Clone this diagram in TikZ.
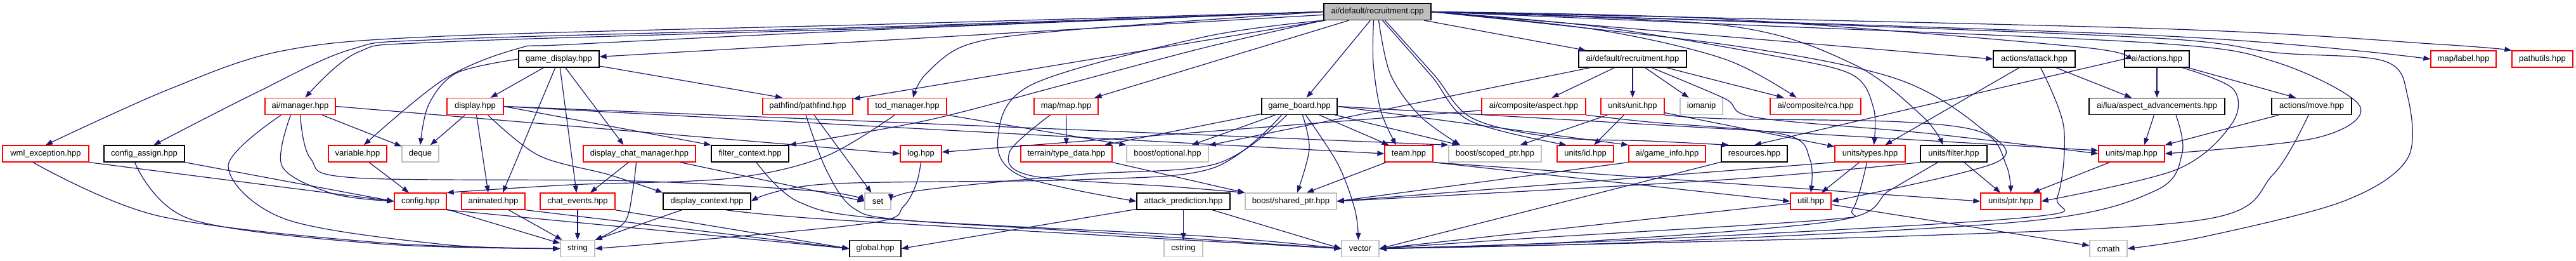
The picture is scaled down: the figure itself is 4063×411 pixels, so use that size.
\documentclass[tikz,border=0pt]{standalone}
\usepackage{fontspec}
\setmainfont{Liberation Sans}
\usetikzlibrary{arrows.meta}
\definecolor{edgec}{HTML}{191970}
\definecolor{gfill}{HTML}{BFBFBF}
\definecolor{gline}{HTML}{BFBFBF}
\begin{document}
\begin{tikzpicture}[x=1pt,y=1pt,
 nb/.style={rectangle, inner sep=0pt, minimum height=26pt, line width=1.3pt, font=\fontsize{13}{15}\selectfont, text=black},
 rn/.style={nb, draw=red},
 bn/.style={nb, draw=black},
 gn/.style={nb, draw=gline},
 cn/.style={nb, draw=black, fill=gfill},
 e/.style={draw=edgec, line width=1.2pt, -{Triangle[length=11pt,width=8pt]}},
 sm/.style={smooth, tension=0.55}]
\useasboundingbox (0,0) rectangle (4063,-411);
% row 1
\node[cn, minimum width=169pt] (cpp) at (2172.5,-18.5) {ai/default/recruitment.cpp};
% row 2
\node[bn, minimum width=127pt] (gdisp) at (881.5,-93) {game\_display.hpp};
\node[bn, minimum width=170pt] (rechpp) at (2575,-93) {ai/default/recruitment.hpp};
\node[bn, minimum width=129pt] (attack) at (3208.5,-93) {actions/attack.hpp};
\node[bn, minimum width=102pt] (aiactions) at (3402,-93) {ai/actions.hpp};
\node[rn, minimum width=103pt] (label) at (3885.5,-93) {map/label.hpp};
\node[rn, minimum width=96pt] (pathutils) at (4010,-93) {pathutils.hpp};
% row 3
\node[rn, minimum width=111pt] (manager) at (473.5,-167.5) {ai/manager.hpp};
\node[rn, minimum width=89pt] (display) at (749.5,-167.5) {display.hpp};
\node[rn, minimum width=142pt] (pathfind) at (1274,-167.5) {pathfind/pathfind.hpp};
\node[rn, minimum width=124pt] (tod) at (1431,-167.5) {tod\_manager.hpp};
\node[rn, minimum width=101pt] (mapmap) at (1681.5,-167.5) {map/map.hpp};
\node[bn, minimum width=119pt] (gboard) at (2049.5,-167.5) {game\_board.hpp};
\node[rn, minimum width=164pt] (aspect) at (2419,-167.5) {ai/composite/aspect.hpp};
\node[rn, minimum width=100pt] (unit) at (2575,-167.5) {units/unit.hpp};
\node[gn, minimum width=67pt] (iomanip) at (2683.5,-167.5) {iomanip};
\node[rn, minimum width=143pt] (rca) at (2863.5,-167.5) {ai/composite/rca.hpp};
\node[bn, minimum width=214pt] (aspadv) at (3402,-167.5) {ai/lua/aspect\_advancements.hpp};
\node[bn, minimum width=126pt] (move) at (3646,-167.5) {actions/move.hpp};
% row 4
\node[rn, minimum width=136pt] (wml) at (72,-242) {wml\_exception.hpp};
\node[bn, minimum width=127pt] (cassign) at (227.5,-242) {config\_assign.hpp};
\node[rn, minimum width=92pt] (variable) at (564,-242) {variable.hpp};
\node[gn, minimum width=58pt] (deque) at (663,-242) {deque};
\node[rn, minimum width=177pt] (dcm) at (1008.5,-242) {display\_chat\_manager.hpp};
\node[bn, minimum width=122pt] (filterctx) at (1183,-242) {filter\_context.hpp};
\node[rn, minimum width=65pt] (log) at (1452.5,-242) {log.hpp};
\node[rn, minimum width=144pt] (terrain) at (1682,-242) {terrain/type\_data.hpp};
\node[gn, minimum width=129pt] (optional) at (1841.5,-242) {boost/optional.hpp};
\node[rn, minimum width=76pt] (team) at (2222,-242) {team.hpp};
\node[gn, minimum width=146pt] (scoped) at (2358,-242) {boost/scoped\_ptr.hpp};
\node[rn, minimum width=89pt] (unitsid) at (2500.5,-242) {units/id.hpp};
\node[rn, minimum width=121pt] (gameinfo) at (2629.5,-242) {ai/game\_info.hpp};
\node[bn, minimum width=104pt] (resources) at (2767,-242) {resources.hpp};
\node[rn, minimum width=111pt] (types) at (2949.5,-242) {units/types.hpp};
\node[bn, minimum width=105pt] (ufilter) at (3081.5,-242) {units/filter.hpp};
\node[rn, minimum width=104pt] (umap) at (3362,-242) {units/map.hpp};
% row 5
\node[rn, minimum width=82pt] (config) at (663,-317) {config.hpp};
\node[rn, minimum width=100pt] (animated) at (778,-317) {animated.hpp};
\node[rn, minimum width=118pt] (chatev) at (911,-317) {chat\_events.hpp};
\node[bn, minimum width=138pt] (dctx) at (1115,-317) {display\_context.hpp};
\node[gn, minimum width=41pt] (set) at (1384.5,-317) {set};
\node[bn, minimum width=147pt] (attpred) at (1866.5,-317) {attack\_prediction.hpp};
\node[gn, minimum width=144pt] (shared) at (2036,-317) {boost/shared\_ptr.hpp};
\node[rn, minimum width=64pt] (util) at (2856,-317) {util.hpp};
\node[rn, minimum width=95pt] (uptr) at (3171.5,-317) {units/ptr.hpp};
% row 6
\node[gn, minimum width=54pt] (string) at (911,-391.5) {string};
\node[bn, minimum width=81pt] (global) at (1380.5,-391.5) {global.hpp};
\node[gn, minimum width=61pt] (cstring) at (1866.5,-391.5) {cstring};
\node[gn, minimum width=59pt] (vector) at (2145.5,-391.5) {vector};
\node[gn, minimum width=59pt] (cmath) at (3325.5,-391.5) {cmath};

% ---- edges from recruitment.cpp
\draw[e] plot[sm] coordinates {(cpp.west) (1400,-38) (700,-57) (446,-80) (268,-140) (wml.north)};
\draw[e] plot[sm] coordinates {(cpp.west) (1400,-42) (700,-62) (553,-78) (402,-147) ([xshift=15pt]cassign.north)};
\draw[e] plot[sm] coordinates {(cpp.west) (1400,-44) (700,-66) (565,-82) ([xshift=8pt]manager.north)};
\draw[e] plot[sm] coordinates {(cpp.west) (1400,-46) (900,-70) (815,-77) (700,-125) ([xshift=10pt]variable.north)};
\draw[e] (cpp) -- (gdisp);
\draw[e] (cpp) -- (pathfind);
\draw[e] plot[sm] coordinates {(cpp.west) (1680,-48) (1527,-70) (1460,-117) ([xshift=9pt]tod.north)};
\draw[e] (cpp) -- (mapmap);
\draw[e] plot[sm] coordinates {(cpp.south west) (1900,-75) (1680,-133) (1460,-190) (filterctx.north east)};
\draw[e] (cpp) -- (gboard);
\draw[e] plot[sm] coordinates {([xshift=-6pt]cpp.south) (2166,-100) (2178,-175) ([xshift=-20pt]team.north)};
\draw[e] plot[sm] coordinates {([xshift=2pt]cpp.south) (2193,-117) (2240,-183) ([xshift=-55pt]scoped.north)};
\draw[e] plot[sm] coordinates {([xshift=8pt]cpp.south) (2258,-120) (2318,-190) ([xshift=-30pt]unitsid.north)};
\draw[e] plot[sm] coordinates {([xshift=12pt]cpp.south) (2262,-118) (2322,-186) (2450,-216) (2600,-222) ([xshift=-40pt]resources.north)};
\draw[e] (cpp) -- (rechpp);
\draw[e] plot[sm] coordinates {(cpp.east) (2520,-47) (2720,-93) ([xshift=-30pt]rca.north)};
\draw[e] plot[sm] coordinates {(cpp.east) (2520,-42) (2787,-86) (2920,-117) (2955,-170) ([xshift=6pt]types.north)};
\draw[e] plot[sm] coordinates {(cpp.east) (2720,-40) (2921,-100) (3032,-183) ([xshift=-17pt]ufilter.north)};
\draw[e] plot[sm] coordinates {(cpp.east) (2720,-70) (2988,-123) (3122,-200) (3150,-255) (util.east)};
\draw[e] (cpp.east) -- (attack.west);
\draw[e] plot[sm] coordinates {(cpp.east) (2720,-30) (3280,-74) (aiactions.west)};
\draw[e] plot[sm] coordinates {(cpp.east) (2720,-38) (3400,-68) (3590,-98) (3722,-167) (3654,-217) (umap.east)};
\draw[e] plot[sm] coordinates {(cpp.east) (3400,-56) (label.west)};
\draw[e] plot[sm] coordinates {(cpp.east) (3400,-45) (3850,-70) (pathutils.north west)};
\draw[e] plot[sm] coordinates {(cpp.east) (2720,-33) (3400,-60) (3590,-83) (3760,-96) (3797,-150) (3797,-250) (3696,-317) (3480,-372) (cmath.east)};
\draw[e] plot[sm] coordinates {(cpp.south west) (1900,-58) (1628,-133) (1574,-217) (1610,-277) (attpred.west)};

% ---- ai/default/recruitment.hpp
\draw[e] (rechpp) -- (aspect);
\draw[e] (rechpp) -- (unit);
\draw[e] (rechpp) -- (iomanip);
\draw[e] (rechpp) -- ([xshift=-50pt]rca.north);
\draw[e] (rechpp) -- (optional);
\draw[e] plot[sm] coordinates {([xshift=30pt]rechpp.south) (2720,-155) (2770,-185) (3040,-210) (umap.west)};

% ---- aspect, unit
\draw[e] (aspect) -- (log);
\draw[e] plot[sm] coordinates {(aspect.south east) (2600,-192) (2815,-212) (2855,-252) (util.north)};
\draw[e] (unit) -- (scoped);
\draw[e] (unit) -- (unitsid);
\draw[e] (unit) -- (types);
\draw[e] plot[sm] coordinates {(unit.south east) (2720,-187) (3000,-192) (3130,-210) (3165,-262) (uptr.north)};

% ---- game_board
\draw[e] (gboard) -- ([xshift=60pt]terrain.north);
\draw[e] (gboard) -- (optional);
\draw[e] (gboard) -- (team);
\draw[e] (gboard) -- (scoped);
\draw[e] (gboard.east) -- (gameinfo.north west);
\draw[e] (gboard.east) -- ([yshift=5pt]umap.west);
\draw[e] plot[sm] coordinates {([xshift=5pt]gboard.south) (2065,-235) ([xshift=10pt]shared.north)};
\draw[e] plot[sm] coordinates {([xshift=10pt]gboard.south) (2110,-258) (2137,-330) ([xshift=-3pt]vector.north)};
\draw[e] plot[sm] coordinates {([xshift=-20pt]gboard.south) (1918,-258) (1700,-275) (1450,-300) (set.east)};
\draw[e] plot[sm] coordinates {([xshift=-28pt]gboard.south) (1912,-265) (1700,-283) (1300,-290) (dctx.east)};

% ---- game_display
\draw[e] (gdisp) -- (display);
\draw[e] plot[sm] coordinates {(gdisp.west) (720,-115) (676,-165) (deque.north)};
\draw[e] (gdisp) -- ([xshift=15pt]animated.north);
\draw[e] (gdisp) -- (chatev);
\draw[e] (gdisp) -- ([xshift=-25pt]dcm.north);
\draw[e] (gdisp) -- ([xshift=-40pt]pathfind.north);

% ---- display
\draw[e] (display) -- (deque);
\draw[e] (display) -- ([xshift=-8pt]animated.north);
\draw[e] plot[sm] coordinates {([xshift=20pt]display.south) (850,-245) (960,-275) (dctx.north west)};
\draw[e] (display.east) -- (filterctx.north west);
\draw[e] (display.east) -- (team.west);
\draw[e] (display.east) -- (scoped.north west);

% ---- ai/manager
\draw[e] (manager) -- (deque);
\draw[e] plot[sm] coordinates {([xshift=-15pt]manager.south) (445,-262) (525,-305) (config.west)};
\draw[e] plot[sm] coordinates {([xshift=-30pt]manager.south) (360,-262) (450,-345) (700,-385) (string.west)};
\draw[e] plot[sm] coordinates {(manager.south) (490,-250) (560,-280) (1000,-285) (1300,-302) (set.west)};
\draw[e] (manager.east) -- (log.west);

% ---- wml_exception, config_assign, variable
\draw[e] (wml.south east) -- (config.west);
\draw[e] plot[sm] coordinates {([xshift=-20pt]wml.south) (250,-340) (600,-382) (string.west)};
\draw[e] (cassign.south east) -- (config.west);
\draw[e] plot[sm] coordinates {([xshift=-15pt]cassign.south) (300,-345) (600,-384) (string.west)};
\draw[e] (variable) -- (config);

% ---- display_chat_manager, filter_context, pathfind, tod_manager
\draw[e] (dcm) -- ([xshift=20pt]chatev.north);
\draw[e] plot[sm] coordinates {([xshift=-5pt]dcm.south) (998,-300) (985,-350) (string.north east)};
\draw[e] (dcm) -- (set.west);
\draw[e] plot[sm] coordinates {([xshift=10pt]filterctx.south) (1260,-318) (1400,-345) (1900,-372) (vector.west)};
\draw[e] (pathfind) -- (set);
\draw[e] plot[sm] coordinates {([xshift=-3pt]pathfind.south) (1303,-267) (1345,-327) (1420,-346) (1700,-364) (vector.west)};
\draw[e] plot[sm] coordinates {([xshift=-20pt]tod.south) (1300,-247) (1150,-281) (900,-291) (config.north east)};
\draw[e] (tod.south east) -- (optional.north west);

% ---- map, terrain, log, attack_prediction, display_context
\draw[e] (mapmap) -- (terrain);
\draw[e] plot[sm] coordinates {([xshift=-25pt]mapmap.south) (1592,-240) (1628,-277) (1850,-294) (shared.north west)};
\draw[e] (terrain.south east) -- (shared.north west);
\draw[e] plot[sm] coordinates {(log.south) (1445,-290) (1425,-325) (1380,-350) (1100,-378) (string.east)};
\draw[e] (attpred) -- (cstring);
\draw[e] (attpred) -- (vector.west);
\draw[e] (attpred) -- (global.east);
\draw[e] (dctx) -- (string.north east);
\draw[e] plot[sm] coordinates {([xshift=30pt]dctx.south) (1300,-345) (1800,-374) (vector.west)};

% ---- animated, chat_events, config
\draw[e] (animated) -- (string);
\draw[e] (animated.south east) -- (global.west);
\draw[e] (chatev) -- (string);
\draw[e] (chatev.south east) -- (global.west);
\draw[e] (config) -- (string);
\draw[e] (config.south east) -- (global.west);

% ---- util, types, filter, map
\draw[e] (util) -- (cmath);
\draw[e] (util) -- (vector.east);
\draw[e] (types) -- (util);
\draw[e] plot[sm] coordinates {([xshift=-5pt]types.south) (2922,-330) (2880,-346) (2400,-376) (vector.east)};
\draw[e] (types.south west) -- (shared.east);
\draw[e] (ufilter) -- (uptr);
\draw[e] plot[sm] coordinates {([xshift=-25pt]ufilter.south) (2980,-300) (2900,-347) (2500,-380) (vector.east)};
\draw[e] plot[sm] coordinates {(ufilter.south west) (2720,-283) (shared.east)};
\draw[e] (umap) -- (uptr);

% ---- aspect_advancements, move, ai/actions, attack
\draw[e] (aspadv) -- ([xshift=20pt]umap.north);
\draw[e] plot[sm] coordinates {([xshift=30pt]aspadv.south) (3442,-240) (3400,-300) (3200,-348) (2600,-381) (vector.east)};
\draw[e] (move) -- (umap.north east);
\draw[e] plot[sm] coordinates {([xshift=-5pt]move.south) (3585,-275) (3480,-345) (3000,-372) (vector.east)};
\draw[e] (aiactions) -- (aspadv);
\draw[e] (aiactions) -- ([xshift=-25pt]move.north);
\draw[e] plot[sm] coordinates {([xshift=40pt]aiactions.south) (3522,-140) (3520,-195) (3433,-267) (uptr.east)};
\draw[e] (aiactions.west) -- (resources.north);
\draw[e] (attack) -- (types);
\draw[e] (attack) -- ([xshift=-40pt]aspadv.north);
\draw[e] plot[sm] coordinates {([xshift=10pt]attack.south) (3255,-200) (3245,-310) (3200,-342) (2600,-377) (vector.east)};

% ---- resources, game_info, team
\draw[e] (resources) -- (vector.east);
\draw[e] (gameinfo.south west) -- (shared.east);
\draw[e] (team) -- ([xshift=25pt]shared.north);
\draw[e] (team.south east) -- (util.west);
\draw[e] (team.south east) -- (uptr.west);
\end{tikzpicture}
\end{document}
